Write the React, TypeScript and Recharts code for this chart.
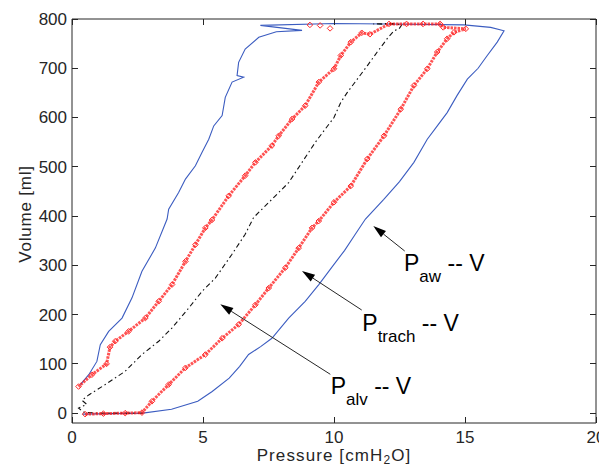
import { ScatterChart, Scatter, XAxis, YAxis, Label } from 'recharts'

// pressure [cmH2O], volume [ml] pairs
const paw: [number, number][] = [
  [0.4, -2], [1.5, -1], [2.7, 0], [3.8, 8], [4.8, 24], [5.35, 44], [6.0, 71], [6.4, 95],
  [6.74, 119], [7.2, 135], [7.63, 152], [8.27, 193], [8.9, 227], [9.42, 261], [10.0, 302],
  [10.4, 330], [10.8, 362], [11.2, 394], [11.9, 434], [12.5, 470], [13.05, 509], [13.56, 556],
  [13.9, 580], [14.32, 610], [14.7, 645], [15.09, 678], [15.5, 700], [15.85, 726], [16.23, 753],
  [16.49, 776], [15.98, 783], [14.96, 788], [12.0, 790], [10.0, 791], [7.19, 787], [8.78, 777],
  [7.8, 774], [7.13, 763], [6.61, 739], [6.36, 712], [6.3, 685], [6.55, 682], [6.11, 672],
  [5.85, 641], [5.73, 604], [5.41, 583], [5.22, 556], [4.96, 529], [4.71, 502], [4.33, 475],
  [4.07, 448], [3.69, 414], [3.63, 394], [3.18, 335], [2.67, 288], [2.29, 234], [1.91, 193],
  [1.4, 166], [1.08, 139], [0.95, 105], [0.64, 78], [0.32, 58],
]

const ptrach: [number, number][] = [
  [0.5, -2], [1.2, -1], [2.03, 0], [2.67, 1], [3.05, 24], [3.69, 58], [4.33, 92], [5.09, 119],
  [5.73, 152], [6.36, 180], [7.0, 220], [7.51, 254], [8.14, 295], [8.65, 335], [9.16, 376],
  [9.42, 390], [10.0, 428], [10.64, 461], [11.27, 516], [11.91, 563], [12.55, 617], [13.05, 665],
  [13.56, 699], [13.94, 733], [14.32, 760], [14.58, 773], [15.03, 780], [14.17, 783], [14.05, 790],
  [13.4, 790], [12.77, 790], [12.1, 790], [11.37, 769], [11.06, 772], [10.64, 753], [10.26, 726],
  [10.0, 699], [9.42, 672], [8.9, 624], [8.4, 597], [7.89, 563], [7.63, 543], [7.0, 509],
  [6.61, 482], [5.98, 441], [5.34, 392], [5.09, 376], [4.71, 342], [4.33, 308], [3.82, 261],
  [3.31, 227], [2.8, 193], [2.16, 166], [1.65, 146], [1.45, 134], [1.32, 100], [0.76, 78],
  [0.25, 54],
]

const ptrachStray: [number, number][] = [[9.08, 788], [9.47, 787], [9.85, 781]]

const palv: [number, number][] = [
  [2.7, 0], [1.8, 0], [1.0, 0], [0.45, 2], [0.25, 10], [0.56, 18], [0.38, 26], [0.64, 37],
  [1.27, 58], [2.03, 85], [2.67, 119], [3.31, 146], [3.82, 173], [4.45, 213], [4.96, 247],
  [5.47, 274], [6.1, 322], [6.61, 363], [6.93, 397], [7.63, 434], [8.27, 468], [8.78, 509],
  [9.29, 550], [9.67, 577], [10.0, 600], [10.26, 631], [10.51, 651], [10.89, 678], [11.27, 705],
  [11.65, 733], [12.03, 760], [12.29, 776], [12.48, 780], [12.6, 789], [11.5, 790], [12.3, 791],
]

const pressureTicks = [0, 5, 10, 15, 20]
const volumeTicks = [0, 100, 200, 300, 400, 500, 600, 700, 800]

const toPoints = (arr: [number, number][]) => arr.map(([p, v]) => ({ p, v }))

const INK = '#262626'
const FONT = '"Liberation Sans", Arial, sans-serif'

// plot box inside the 599x458 chart (from margins + axis sizes below)
const BOX = { left: 64, right: 588, top: 11, bottom: 415 }
const X_DOMAIN: [number, number] = [0, 20]
const Y_DOMAIN: [number, number] = [-20, 800]
const TICK = 6

const noDot = () => <g />
const diamond = (props: any) => {
  const { cx, cy } = props
  return (
    <path
      d={`M${cx},${cy - 2.8} L${cx + 2.8},${cy} L${cx},${cy + 2.8} L${cx - 2.8},${cy} Z`}
      fill="none"
      stroke="#ff2a2a"
      strokeWidth={1}
    />
  )
}

const LeftTick = (props: any) => {
  const { x, y, payload } = props
  return (
    <text x={x} y={y} dy="0.35em" textAnchor="end" fontSize={17} fill={INK} fontFamily={FONT}>
      {payload.value}
    </text>
  )
}
const BottomTick = (props: any) => {
  const { x, y, payload } = props
  return (
    <text x={x} y={y} dy="0.71em" textAnchor="middle" fontSize={17} fill={INK} fontFamily={FONT}>
      {payload.value}
    </text>
  )
}

const XTitle = (props: any) => {
  const { viewBox } = props
  const cx = viewBox.x + viewBox.width / 2
  return (
    <text x={cx} y={viewBox.y + 38} textAnchor="middle" fontSize={17} letterSpacing={1.1} fill={INK} fontFamily={FONT}>
      Pressure [cmH<tspan fontSize={12} dy={3}>2</tspan>
      <tspan dy={-3}>O]</tspan>
    </text>
  )
}

const YTitle = () => (
  <text x={23} y={206} transform="rotate(-90 23 206)" textAnchor="middle" fontSize={17} letterSpacing={0.8} fill={INK} fontFamily={FONT}>
    Volume [ml]
  </text>
)

function Arrow({ x1, y1, x2, y2 }: { x1: number; y1: number; x2: number; y2: number }) {
  // tail (x1,y1) to head (x2,y2)
  const a = Math.atan2(y2 - y1, x2 - x1)
  const len = 13
  const w = 4
  const bx = x2 - len * Math.cos(a)
  const by = y2 - len * Math.sin(a)
  const pts = [
    `${x2},${y2}`,
    `${bx + w * Math.sin(a)},${by - w * Math.cos(a)}`,
    `${bx - w * Math.sin(a)},${by + w * Math.cos(a)}`,
  ].join(' ')
  return (
    <g>
      <line x1={x1} y1={y1} x2={bx} y2={by} stroke={INK} strokeWidth={1} />
      <polygon points={pts} fill="#000" />
    </g>
  )
}

function Tag({ x, y, sub }: { x: number; y: number; sub: string }) {
  return (
    <text x={x} y={y} fontSize={23} fill="#000" fontFamily={FONT}>
      P<tspan fontSize={17} dy={11}>{sub}</tspan>
      <tspan dy={-11}> -- V</tspan>
    </text>
  )
}

// matlab-style inward tick marks on all four sides of the box
function BoxTicks() {
  const sx = (p: number) => BOX.left + ((p - X_DOMAIN[0]) / (X_DOMAIN[1] - X_DOMAIN[0])) * (BOX.right - BOX.left)
  const sy = (v: number) => BOX.bottom - ((v - Y_DOMAIN[0]) / (Y_DOMAIN[1] - Y_DOMAIN[0])) * (BOX.bottom - BOX.top)
  return (
    <g stroke={INK} strokeWidth={1} shapeRendering="crispEdges">
      {pressureTicks.map((p) => (
        <g key={`x${p}`}>
          <line x1={sx(p)} x2={sx(p)} y1={BOX.bottom} y2={BOX.bottom - TICK} />
          <line x1={sx(p)} x2={sx(p)} y1={BOX.top} y2={BOX.top + TICK} />
        </g>
      ))}
      {volumeTicks.map((v) => (
        <g key={`y${v}`}>
          <line x1={BOX.left} x2={BOX.left + TICK} y1={sy(v)} y2={sy(v)} />
          <line x1={BOX.right} x2={BOX.right - TICK} y1={sy(v)} y2={sy(v)} />
        </g>
      ))}
    </g>
  )
}

export default function App() {
  return (
    <div style={{ position: 'relative', width: 599, height: 458, fontFamily: FONT }}>
      <style>{'html, body { overflow: hidden; }'}</style>
      <ScatterChart width={599} height={458} margin={{ top: 10, right: 10, bottom: 0, left: 0 }}>
        <XAxis
          xAxisId="b"
          type="number"
          dataKey="p"
          domain={X_DOMAIN}
          ticks={pressureTicks}
          interval={0}
          allowDataOverflow
          height={43}
          tickSize={0}
          tickMargin={8}
          tickLine={false}
          stroke={INK}
          tick={BottomTick}
        >
          <Label content={XTitle} />
        </XAxis>
        <XAxis
          xAxisId="t"
          orientation="top"
          type="number"
          dataKey="p"
          domain={X_DOMAIN}
          allowDataOverflow
          height={1}
          tickLine={false}
          tick={false}
          stroke={INK}
        />
        <YAxis
          yAxisId="l"
          type="number"
          dataKey="v"
          domain={Y_DOMAIN}
          ticks={volumeTicks}
          interval={0}
          allowDataOverflow
          width={64}
          tickSize={0}
          tickMargin={5}
          tickLine={false}
          stroke={INK}
          tick={LeftTick}
        >
          <Label content={YTitle} />
        </YAxis>
        <YAxis
          yAxisId="r"
          orientation="right"
          type="number"
          dataKey="v"
          domain={Y_DOMAIN}
          allowDataOverflow
          width={1}
          tickLine={false}
          tick={false}
          stroke={INK}
        />
        <Scatter
          xAxisId="b"
          yAxisId="l"
          data={toPoints(paw)}
          line={{ stroke: '#3b5cc0', strokeWidth: 1.1 }}
          lineType="joint"
          shape={noDot}
          isAnimationActive={false}
        />
        <Scatter
          xAxisId="b"
          yAxisId="l"
          data={toPoints(palv)}
          line={{ stroke: '#111', strokeWidth: 1.1, strokeDasharray: '5 3 1.5 3' }}
          lineType="joint"
          shape={noDot}
          isAnimationActive={false}
        />
        <Scatter
          xAxisId="b"
          yAxisId="l"
          data={toPoints(ptrach)}
          line={{ stroke: '#ff1a1a', strokeWidth: 3, strokeDasharray: '2.5 1', strokeOpacity: 0.75 }}
          lineType="joint"
          shape={diamond}
          isAnimationActive={false}
        />
        <Scatter
          xAxisId="b"
          yAxisId="l"
          data={toPoints(ptrachStray)}
          shape={diamond}
          isAnimationActive={false}
        />
      </ScatterChart>
      <svg width={599} height={458} style={{ position: 'absolute', left: 0, top: 0, pointerEvents: 'none' }}>
        <BoxTicks />
        <Arrow x1={396.7} y1={243} x2={365.3} y2={218} />
        <Arrow x1={353.7} y1={302} x2={294} y2={263} />
        <Arrow x1={322.3} y1={366.3} x2={212.3} y2={296.3} />
        <Tag x={396} y={263} sub="aw" />
        <Tag x={354.3} y={323} sub="trach" />
        <Tag x={322.7} y={386.3} sub="alv" />
      </svg>
    </div>
  )
}
